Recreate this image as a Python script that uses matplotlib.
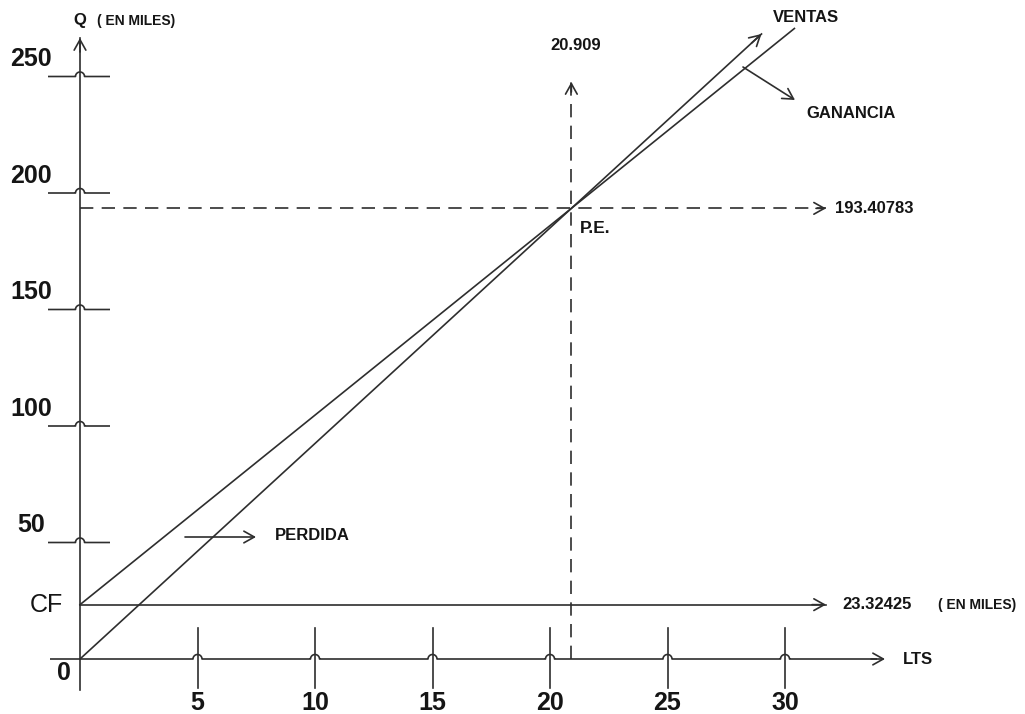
import numpy as np
import matplotlib
matplotlib.use("Agg")
import matplotlib.pyplot as plt

# Break-even chart data
x_ticks = [5, 10, 15, 20, 25, 30]
y_ticks = [50, 100, 150, 200, 250]
fixed_cost = 23.32425          # CF (en miles)
pe_x = 20.909                  # break-even quantity (LTS)
pe_y = 193.40783               # break-even value (en miles)

sales_slope = pe_y / pe_x
cost_slope = (pe_y - fixed_cost) / pe_x

# drawing scale: pixels per data unit and origin position in pixels
W, H = 1025, 714
SX, SY = 23.5, 2.33
OX, OY = 80, 659

plt.rcParams['font.family'] = ['Liberation Sans', 'DejaVu Sans']
INK = '#2e2e2e'
TXT = '#151515'
LW = 1.2

fig = plt.figure(figsize=(W / 100, H / 100), dpi=100)
ax = fig.add_axes([0, 0, 1, 1])
ax.set_xlim(-OX / SX, (W - OX) / SX)
ax.set_ylim(-(H - OY) / SY, OY / SY)
ax.axis('off')


def dx(p):
    return p / SX


def dy(p):
    return p / SY


def arrow_head(x0, y0, x1, y1):
    ax.annotate('', xy=(x1, y1), xytext=(x0, y0),
                arrowprops=dict(arrowstyle='->,head_length=0.75,head_width=0.42',
                                color=INK, lw=LW, shrinkA=0, shrinkB=0))


def hline_with_humps(y, xa, xb, crossings, r_px=4.5, h_px=4.5):
    r, h = dx(r_px), dy(h_px)
    xs, ys = [xa], [y]
    t = np.linspace(np.pi, 0, 20)
    for c in sorted(crossings):
        xs += list(c + r * np.cos(t))
        ys += list(y + h * np.sin(t))
    xs.append(xb)
    ys.append(y)
    ax.plot(xs, ys, color=INK, lw=LW, solid_capstyle='butt')


# vertical axis (Q)
y_top = dy(OY - 38)
ax.plot([0, 0], [dy(-31), y_top], color=INK, lw=LW)
arrow_head(0, y_top - dy(14), 0, y_top)

# horizontal axis (LTS) with humps over the tick marks
x_end = dx(885 - OX)
hline_with_humps(0, dx(50 - OX), x_end - dx(8), x_ticks)
arrow_head(x_end - dx(14), 0, x_end, 0)

# x tick marks and labels
for xt in x_ticks:
    ax.plot([xt, xt], [dy(-29), dy(31)], color=INK, lw=LW)
    ax.text(xt, dy(-44), str(xt), ha='center', va='center', fontsize=18,
            fontweight='bold', color=TXT)

# y tick marks (humped over the axis) and labels
for yt in y_ticks:
    hline_with_humps(yt, dx(-32), dx(30), [0])
    ax.text(dx(31 - OX), yt + dy(17), str(yt), ha='center', va='center',
            fontsize=18, fontweight='bold', color=TXT)

ax.text(dx(64 - OX), dy(-14), '0', ha='center', va='center', fontsize=18,
        fontweight='bold', color=TXT)
ax.text(dx(46 - OX), fixed_cost, 'CF', ha='center', va='center', fontsize=18,
        color=TXT)

# axis titles
ax.text(0, dy(OY - 21), 'Q', ha='center', va='center', fontsize=12,
        fontweight='bold', color=TXT)
ax.text(dx(97 - OX), dy(OY - 21), '( EN MILES)', ha='left', va='center',
        fontsize=10, fontweight='bold', color=TXT)
ax.text(dx(903 - OX), 0, 'LTS', ha='left', va='center', fontsize=12,
        fontweight='bold', color=TXT)

# fixed cost line
line_end = dx(826 - OX)
ax.plot([0, line_end], [fixed_cost, fixed_cost], color=INK, lw=LW)
arrow_head(line_end - dx(14), fixed_cost, line_end, fixed_cost)
ax.text(dx(842 - OX), fixed_cost, f'{fixed_cost:.5f}', ha='left', va='center',
        fontsize=12, fontweight='bold', color=TXT)
ax.text(dx(938 - OX), fixed_cost, '( EN MILES)', ha='left', va='center',
        fontsize=10, fontweight='bold', color=TXT)

# total cost line (from CF) and sales line (from origin)
cost_end = 30.4
ax.plot([0, cost_end], [fixed_cost, fixed_cost + cost_slope * cost_end],
        color=INK, lw=LW)
sales_end = 29.0
ax.plot([0, sales_end], [0, sales_slope * sales_end], color=INK, lw=LW)
arrow_head(sales_end - dx(10), sales_slope * (sales_end - dx(10)),
           sales_end, sales_slope * sales_end)
ax.text(dx(773 - OX), dy(OY - 18), 'VENTAS', ha='left', va='center',
        fontsize=12, fontweight='bold', color=TXT)

# break-even guides
dash = (0, (8, 5))
v_top = dy(OY - 82)
ax.plot([pe_x, pe_x], [0, v_top], color=INK, lw=LW, linestyle=dash)
arrow_head(pe_x, v_top - dy(10), pe_x, v_top)
ax.text(pe_x + dx(4), dy(OY - 45), f'{pe_x:.3f}', ha='center', va='center',
        fontsize=12, fontweight='bold', color=TXT)

ax.plot([0, line_end], [pe_y, pe_y], color=INK, lw=LW, linestyle=dash)
arrow_head(line_end - dx(10), pe_y, line_end, pe_y)
ax.text(dx(835 - OX), pe_y, f'{pe_y:.5f}', ha='left', va='center',
        fontsize=12, fontweight='bold', color=TXT)

ax.text(pe_x + dx(9), pe_y - dy(20), 'P.E.', ha='left', va='center',
        fontsize=12.5, fontweight='bold', color=TXT)

# profit / loss pointers
ax.annotate('', xy=(dx(795 - OX), dy(OY - 100)), xytext=(dx(743 - OX), dy(OY - 67)),
            arrowprops=dict(arrowstyle='->,head_length=0.75,head_width=0.42',
                            color=INK, lw=LW, shrinkA=0, shrinkB=0))
ax.text(dx(806 - OX), dy(OY - 113), 'GANANCIA', ha='left', va='center',
        fontsize=12, fontweight='bold', color=TXT)

ax.annotate('', xy=(dx(256 - OX), dy(OY - 537)), xytext=(dx(185 - OX), dy(OY - 537)),
            arrowprops=dict(arrowstyle='->,head_length=0.75,head_width=0.42',
                            color=INK, lw=LW, shrinkA=0, shrinkB=0))
ax.text(dx(275 - OX), dy(OY - 535), 'PERDIDA', ha='left', va='center',
        fontsize=12, fontweight='bold', color=TXT)

fig.savefig('out.png', dpi=100, facecolor='white')
